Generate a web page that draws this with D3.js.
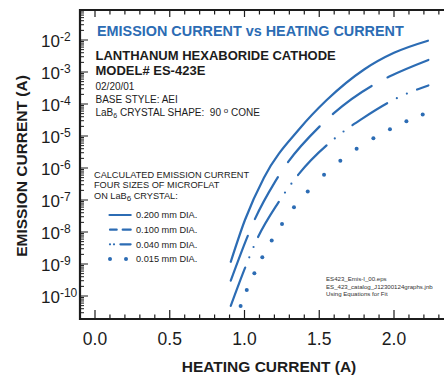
<!DOCTYPE html>
<html>
<head>
<meta charset="utf-8">
<script src="https://cdn.jsdelivr.net/npm/d3@7"></script>
<style>
  html, body { margin: 0; padding: 0; background: #fff; }
  svg { display: block; font-family: 'Liberation Sans', Arial, Helvetica, sans-serif; }
  text { white-space: pre; }
</style>
</head>
<body>
<div id="app"></div>
<script>
'use strict'

// Heating current (A) -> emission current (A)
const heat200 = [0.908, 1.003, 1.13, 1.371, 1.55, 1.80, 2.00, 2.227]
const emis200 = [1.17e-9, 2.37e-8, 5.0e-7, 1.74e-5, 1.33e-4, 1.2e-3, 3.98e-3, 9.5e-3]

const heat100 = [0.908, 1.015, 1.052, 1.204, 1.26, 1.505, 1.594, 1.88, 1.969, 2.23]
const emis100 = [3.0e-10, 6.3e-9, 1.66e-8, 3.7e-7, 9.5e-7, 2.04e-5, 5.0e-5, 4.4e-4, 7.2e-4, 2.37e-3]

const heat040 = [0.908, 1.003, 1.081, 1.226, 1.36, 1.605, 1.788, 2.04, 2.165, 2.23]
const emis040 = [4.9e-11, 7.4e-10, 5.6e-9, 8.3e-8, 6.2e-7, 8.5e-6, 3.5e-5, 1.7e-4, 2.95e-4, 3.8e-4]

const heat015 = [0.974, 1.015, 1.066, 1.119, 1.182, 1.251, 1.331, 1.423, 1.532, 1.641, 1.75, 1.862, 1.973, 2.083, 2.192]
const emis015 = [4.9e-11, 1.55e-10, 5.1e-10, 1.62e-9, 5.4e-9, 1.78e-8, 5.9e-8, 1.86e-7, 6.2e-7, 1.7e-6, 4.0e-6, 8.5e-6, 1.62e-5, 2.9e-5, 4.7e-5]

const seriesLabels = ['0.200 mm DIA.', '0.100 mm DIA.', '0.040 mm DIA.', '0.015 mm DIA.']

const xTickValues = [0, 0.5, 1, 1.5, 2]
const xTickLabels = ['0.0', '0.5', '1.0', '1.5', '2.0']
const yExponents = [-2, -3, -4, -5, -6, -7, -8, -9, -10]

const W = 444, H = 375
const frame = { left: 80, top: 10, bottom: 319, right: 444 }
const blue = '#2c6cb4'
const ink = '#1c1c1c'

const svg = d3.select('#app').append('svg').attr('width', W).attr('height', H)

const x = d3.scaleLinear().domain([0, 2]).range([95, 394])
const y = d3.scaleLog().domain([1e-10, 1e-2]).range([296, 40])

// ---- axes frame ----
const axisG = svg.append('g').attr('stroke', ink).attr('fill', 'none')

// bottom + top ticks every 0.1 A
const xMinor = d3.range(0, 24).map(i => i / 10)
xMinor.forEach(v => {
  const major = Math.abs(v * 2 - Math.round(v * 2)) < 1e-6
  const len = major ? 9 : 4.5
  axisG.append('line').attr('x1', x(v)).attr('x2', x(v))
    .attr('y1', frame.bottom).attr('y2', frame.bottom - len).attr('stroke-width', 1.2)
  axisG.append('line').attr('x1', x(v)).attr('x2', x(v))
    .attr('y1', frame.top).attr('y2', frame.top + (major ? 7 : 4.5)).attr('stroke-width', 1.2)
})

// left log ticks
const yTicks = []
d3.range(-11, 0).forEach(e => {
  d3.range(1, 10).forEach(k => {
    const v = k * Math.pow(10, e)
    const py = y(v)
    if (py > frame.top + 1 && py < frame.bottom - 1) yTicks.push({ v, k, py })
  })
})
yTicks.forEach(t => {
  axisG.append('line').attr('x1', frame.left).attr('x2', frame.left + (t.k === 1 ? 8 : 4))
    .attr('y1', t.py).attr('y2', t.py).attr('stroke-width', 1)
})

axisG.append('path')
  .attr('d', `M${frame.right},${frame.top}H${frame.left}V${frame.bottom}H${frame.right}`)
  .attr('stroke-width', 2.2)

// tick labels
svg.append('g').selectAll('text').data(xTickValues).join('text')
  .attr('x', d => x(d)).attr('y', 345)
  .attr('text-anchor', 'middle').attr('font-size', 17.5).attr('fill', ink)
  .text((d, i) => xTickLabels[i])

const yl = svg.append('g').selectAll('text').data(yExponents).join('text')
  .attr('x', 41).attr('y', d => y(Math.pow(10, d)) + 7)
  .attr('font-size', 17).attr('fill', ink)
yl.append('tspan').text('10')
yl.append('tspan').attr('font-size', 12).attr('dy', -6.5).text(d => '-' + Math.abs(d))

// axis titles
svg.append('text').attr('x', 269).attr('y', 371.5).attr('text-anchor', 'middle')
  .attr('font-size', 15.5).attr('font-weight', 'bold').attr('fill', ink)
  .text('HEATING CURRENT (A)')
svg.append('text').attr('transform', 'translate(26.5,166) rotate(-90)')
  .attr('text-anchor', 'middle').attr('font-size', 15.5).attr('font-weight', 'bold').attr('fill', ink)
  .text('EMISSION CURRENT (A)')

// ---- header text ----
svg.append('text').attr('x', 97).attr('y', 36).attr('font-size', 14.4).attr('font-weight', 'bold')
  .attr('fill', blue).text('EMISSION CURRENT vs HEATING CURRENT')
svg.append('text').attr('x', 95.5).attr('y', 60).attr('font-size', 13).attr('font-weight', 'bold')
  .attr('fill', ink).text('LANTHANUM HEXABORIDE CATHODE')
svg.append('text').attr('x', 95.5).attr('y', 75).attr('font-size', 13).attr('font-weight', 'bold')
  .attr('fill', ink).text('MODEL# ES-423E')
svg.append('text').attr('x', 95.5).attr('y', 90).attr('font-size', 10).attr('fill', ink).text('02/20/01')
svg.append('text').attr('x', 95.5).attr('y', 103).attr('font-size', 10).attr('fill', ink).text('BASE STYLE: AEI')
const shape = svg.append('text').attr('x', 95.5).attr('y', 116).attr('font-size', 10).attr('fill', ink)
shape.append('tspan').text('LaB')
shape.append('tspan').attr('font-size', 7).attr('dy', 2).text('6')
shape.append('tspan').attr('dy', -2).text(' CRYSTAL SHAPE:  90 ')
shape.append('tspan').attr('font-size', 8).attr('dy', -3).text('o')
shape.append('tspan').attr('dy', 3).text(' CONE')

// legend header
const legHead = ['CALCULATED EMISSION CURRENT', 'FOUR SIZES OF MICROFLAT']
legHead.forEach((s, i) => {
  svg.append('text').attr('x', 94).attr('y', 177.5 + i * 10.5).attr('font-size', 9.2)
    .attr('fill', ink).text(s)
})
const onL = svg.append('text').attr('x', 94).attr('y', 198.5).attr('font-size', 9.2).attr('fill', ink)
onL.append('tspan').text('ON LaB')
onL.append('tspan').attr('font-size', 8).attr('dy', 2.5).text('6')
onL.append('tspan').attr('dy', -2.5).text(' CRYSTAL:')

// footnote
const foot = ['ES423_Emis-I_00.eps', 'ES_423_catalog_J12300124graphs.jnb', 'Using Equations for Fit']
foot.forEach((s, i) => {
  svg.append('text').attr('x', 326).attr('y', 281 + i * 7.5).attr('font-size', 6.1)
    .attr('fill', '#333').text(s)
})

// ---- curves ----
const line = d3.line().x(d => x(d[0])).y(d => y(d[1])).curve(d3.curveMonotoneX)
const zip = (a, b) => a.map((v, i) => [v, b[i]])

const curves = [
  { pts: zip(heat200, emis200), dash: null },
  { pts: zip(heat100, emis100), dash: '48 18' },
  { pts: zip(heat040, emis040), dash: '41 11 0 11 0 11' }
]
const plot = svg.append('g')
curves.forEach(c => {
  plot.append('path').attr('d', line(c.pts)).attr('fill', 'none')
    .attr('stroke', blue).attr('stroke-width', 2.2).attr('stroke-linecap', 'round')
    .attr('stroke-dasharray', c.dash)
})
plot.selectAll('circle.dot').data(zip(heat015, emis015)).join('circle')
  .attr('class', 'dot').attr('cx', d => x(d[0])).attr('cy', d => y(d[1]))
  .attr('r', 2).attr('fill', blue)

// ---- legend ----
const legY = d3.scalePoint().domain(seriesLabels).range([215, 259])
const leg = svg.append('g')
seriesLabels.forEach((s, i) => {
  const ly = legY(s)
  leg.append('text').attr('x', 136).attr('y', ly + 3.3).attr('font-size', 9.2).attr('fill', ink).text(s)
})
const sample = (x1, x2, ly, dash) => leg.append('line')
  .attr('x1', x1).attr('x2', x2).attr('y1', ly).attr('y2', ly)
  .attr('stroke', blue).attr('stroke-width', 2.2).attr('stroke-linecap', 'round')
  .attr('stroke-dasharray', dash)
sample(109.5, 130.7, legY(seriesLabels[0]), null)
sample(110, 130.7, legY(seriesLabels[1]), '6.7 6 8')
sample(110, 130.6, legY(seriesLabels[2]), '0 4 0 6.4 10.2')
leg.selectAll('circle').data([110, 126]).join('circle')
  .attr('cx', d => d).attr('cy', legY(seriesLabels[3])).attr('r', 2).attr('fill', blue)
</script>
</body>
</html>
